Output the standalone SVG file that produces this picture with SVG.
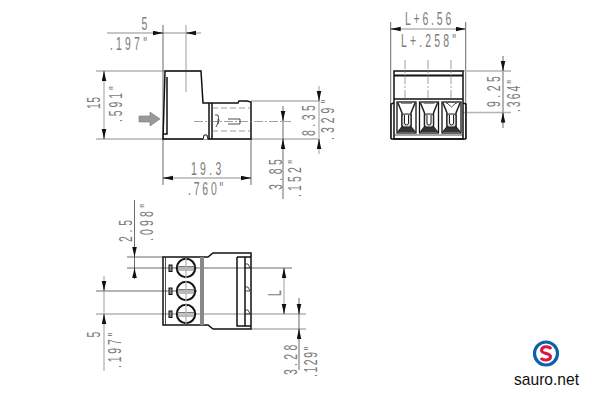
<svg xmlns="http://www.w3.org/2000/svg" width="600" height="400" viewBox="0 0 600 400">
<style>
text{font-family:"Liberation Sans",Arial,sans-serif;}
.t{font-size:19px;fill:#7c7c7c;}
.g{stroke:#b4b4b4;stroke-width:1.3;fill:none;}
.k{stroke:#444;stroke-width:.8;fill:none;}
.o{stroke:#111;stroke-width:1.5;fill:none;}
.h{stroke:#222;stroke-width:.8;fill:none;}
.d{stroke:#777;stroke-width:.7;fill:none;stroke-dasharray:6 3;}
.c{stroke:#777;stroke-width:.7;fill:none;stroke-dasharray:9 2 2 2;}
</style>
<defs>
<marker id="a" markerUnits="userSpaceOnUse" markerWidth="11" markerHeight="6" refX="10" refY="2.5" orient="auto"><path d="M0 .2L10 2.500L0 4.800Z" fill="#111"/></marker>
<g id="cell">
<rect width="19" height="31" fill="#fff" stroke="#111" stroke-width="1.300"/>
<path d="M1 1L5 11V25L1 30M18 1L14 11V25L18 30" fill="none" stroke="#222" stroke-width="1.500"/>
<path d="M1 30L5 25H14L18 30Z" fill="#333"/>
<rect x="5" y="12" width="9" height="13" rx="2" fill="#ddd" stroke="#222" stroke-width="1.100"/>
<path d="M7.500 13V21A2 2 0 0 0 11.500 21V13" fill="#fff" stroke="#222" stroke-width="1"/>
<path d="M4 1.500H15" stroke="#888" stroke-width="1"/>
</g>
</defs>
<rect width="600" height="400" fill="#fff"/>

<g id="connectors">
<path class="g" d="M107 33H201M186 25V92M96 71H201M96 139H318M104 71V139M319 86V154M251 101H320M163 178H251"/>
<path class="k" d="M163 25V185M251 139V185"/>
<path class="k" d="M283 106V199"/>
<line class="k" x1="153" y1="33" x2="163" y2="33" marker-end="url(#a)"/>
<line class="k" x1="196" y1="33" x2="186" y2="33" marker-end="url(#a)"/>
<line class="k" x1="104" y1="81" x2="104" y2="71" marker-end="url(#a)"/>
<line class="k" x1="104" y1="129" x2="104" y2="139" marker-end="url(#a)"/>
<line class="k" x1="319" y1="91" x2="319" y2="101" marker-end="url(#a)"/>
<line class="k" x1="319" y1="149" x2="319" y2="139" marker-end="url(#a)"/>
<line class="k" x1="283" y1="111" x2="283" y2="121" marker-end="url(#a)"/>
<line class="k" x1="283" y1="149" x2="283" y2="139" marker-end="url(#a)"/>
<line class="k" x1="173" y1="178" x2="163" y2="178" marker-end="url(#a)"/>
<line class="k" x1="241" y1="178" x2="251" y2="178" marker-end="url(#a)"/>
<path class="k" d="M390.700 22V139M465.700 22V139M503 56V128"/>
<path class="g" d="M391 29H466M463 71H511M463 112.500H511"/>
<line class="k" x1="400.700" y1="29" x2="390.700" y2="29" marker-end="url(#a)"/>
<line class="k" x1="455.700" y1="29" x2="465.700" y2="29" marker-end="url(#a)"/>
<line class="k" x1="503" y1="61" x2="503" y2="71" marker-end="url(#a)"/>
<line class="k" x1="503" y1="122.500" x2="503" y2="112.500" marker-end="url(#a)"/>
<path class="k" d="M127 257H163M127 268H292M96 291H197M134.500 200V279"/>
<path class="g" d="M96 314H306M251 329H306M104 276V371M284 268V314"/>
<path class="k" d="M299 298V370"/>
<line class="k" x1="134.500" y1="247" x2="134.500" y2="257" marker-end="url(#a)"/>
<line class="k" x1="134.500" y1="278" x2="134.500" y2="268" marker-end="url(#a)"/>
<line class="k" x1="104" y1="281" x2="104" y2="291" marker-end="url(#a)"/>
<line class="k" x1="104" y1="324" x2="104" y2="314" marker-end="url(#a)"/>
<line class="k" x1="284" y1="278" x2="284" y2="268" marker-end="url(#a)"/>
<line class="k" x1="284" y1="304" x2="284" y2="314" marker-end="url(#a)"/>
<line class="k" x1="299" y1="304" x2="299" y2="314" marker-end="url(#a)"/>
<line class="k" x1="299" y1="339" x2="299" y2="329" marker-end="url(#a)"/>
</g>

<g id="side-view">
<path class="o" d="M163 139L165 71H201L203 103H238L239 101H247L251 102V139Z"/>
<path fill="#fff" stroke="#222" stroke-width="1" d="M203 139.500L204 135H207L208 139.500"/>
<path class="o" d="M209 103V139M212 103V139M167 77V134H163.500"/>
<path class="d" d="M212 108H250M212 131H250"/>
<path class="c" d="M194 121.500H291"/>
<path class="h" d="M215 115H218L219 121L216 127M218 119V124M228 119H240V124H228"/>
<path d="M139 116H150V112L160 119L150 126V122H139Z" fill="#999" stroke="#777" stroke-width=".6"/>
</g>

<g id="front-view">
<rect class="o" x="394" y="71" width="69" height="68"/>
<path d="M394 75.500H463" stroke="#111" stroke-width="1.800"/>
<path class="o" d="M394 99H463M391 139V104L394 103M466 139V104L463 103M391 139H466"/>
<path class="c" d="M405 60V98M428 60V98M451 60V98"/>
<use href="#cell" x="397" y="102"/>
<use href="#cell" x="419.500" y="102"/>
<use href="#cell" x="442" y="102"/>
<path d="M447 103L451.500 107L456 103" fill="#fff" stroke="#222" stroke-width=".8"/>
<path class="h" d="M394 135H463"/>
</g>

<g id="top-view">
<path class="o" d="M163 257H208L213 253H251V329H213L208 325H163Z"/>
<path class="h" d="M165.500 257V325"/>
<rect x="200" y="257" width="4" height="68" fill="#888"/>
<path class="o" d="M237 257V326H251M237 257H251M245 257V326"/>
<path class="h" d="M245 264H248L250 268H245M245 287H248L250 291H245M245 310H248L250 314H245"/>
<g fill="none" stroke="#111" stroke-width="2"><circle cx="186" cy="268" r="9.200"/><circle cx="186" cy="291" r="9.200"/><circle cx="186" cy="314" r="9.200"/></g>
<path d="M177 266.500H195M177 270H195M177 289.500H195M177 293H195M177 312.500H195M177 316H195" stroke="#555" stroke-width=".8"/>
<path class="g" d="M186 258V278M186 281V301M186 304V324" stroke-width=".7"/>
<g fill="#888" stroke="#111" stroke-width="1"><rect x="169" y="265" width="3" height="6.500"/><rect x="169" y="288" width="3" height="6.500"/><rect x="169" y="311" width="3" height="6.500"/></g>
</g>

<g id="labels" class="t">
<text transform="translate(141.500 30) scale(.55 1)">5</text>
<text transform="translate(110 50) scale(.55 1)" textLength="67">.197"</text>
<text transform="translate(100 109) rotate(-90) scale(.55 1)" textLength="22">15</text>
<text transform="translate(122 122) rotate(-90) scale(.55 1)" textLength="65">.591"</text>
<text transform="translate(315 136) rotate(-90) scale(.55 1)" textLength="56">8.35</text>
<text transform="translate(334 140) rotate(-90) scale(.55 1)" textLength="73">.329"</text>
<text transform="translate(281.500 190) rotate(-90) scale(.55 1)" textLength="56">3.85</text>
<text transform="translate(301 197) rotate(-90) scale(.55 1)" textLength="67">.152"</text>
<text transform="translate(191 175) scale(.55 1)" textLength="55">19.3</text>
<text transform="translate(188 195) scale(.55 1)" textLength="64">.760"</text>
<text transform="translate(405 25) scale(.55 1)" textLength="84">L+6.56</text>
<text transform="translate(401 46.700) scale(.55 1)" textLength="100">L+.258"</text>
<text transform="translate(500 107) rotate(-90) scale(.55 1)" textLength="56">9.25</text>
<text transform="translate(520 112) rotate(-90) scale(.55 1)" textLength="58">.364"</text>
<text transform="translate(132 242) rotate(-90) scale(.55 1)" textLength="40">2.5</text>
<text transform="translate(152.600 241) rotate(-90) scale(.55 1)" textLength="67">.098"</text>
<text transform="translate(100 337.500) rotate(-90) scale(.55 1)">5</text>
<text transform="translate(120.700 368) rotate(-90) scale(.55 1)" textLength="64">.197"</text>
<text transform="translate(281 296) rotate(-90) scale(.55 1)">L</text>
<text transform="translate(296.700 375) rotate(-90) scale(.55 1)" textLength="55">3.28</text>
<text transform="translate(317 377) rotate(-90) scale(.55 1)" textLength="55">.129"</text>
</g>

<g id="logo">
<circle cx="546" cy="353.500" r="11.500" fill="#fff" stroke="#0a62aa" stroke-width="3.200"/>
<path d="M551 349C549 345.500 541.500 346 541.500 350.500C541.500 354 550.500 353 550.500 356.500C550.500 361 543 361 541 358" fill="none" stroke="#d8163f" stroke-width="3"/>
<text x="514" y="385" font-size="17" fill="#111" textLength="65" lengthAdjust="spacingAndGlyphs">sauro.net</text>
</g>
</svg>
